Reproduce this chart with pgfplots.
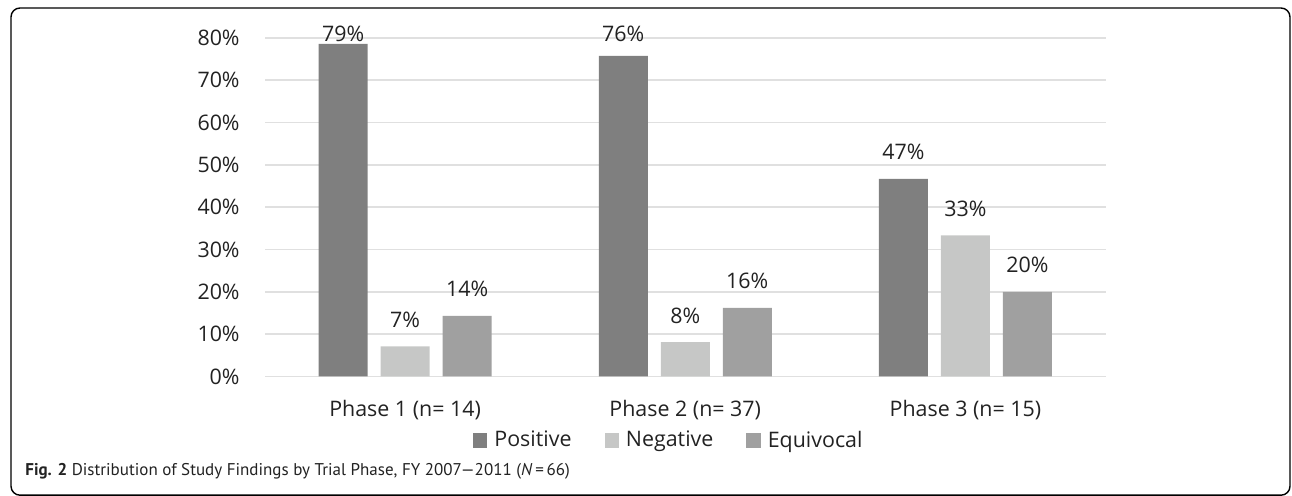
\documentclass[border=0pt]{standalone}
\usepackage{pgfplots}
\usepackage{pgfplotstable}
\pgfplotsset{compat=1.18}
\usepackage{fontspec}
\setmainfont{Open Sans}
\newfontfamily\capfont{PT Sans}

\definecolor{posgray}{HTML}{7F7F7F}
\definecolor{neggray}{HTML}{C6C7C6}
\definecolor{equgray}{HTML}{A0A0A0}
\definecolor{gridgray}{HTML}{E0E0E0}
\definecolor{txt}{HTML}{222222}

% share of findings (%) per trial phase: 0 = Phase 1, 1 = Phase 2, 2 = Phase 3
\pgfplotstableread{
x v
0 78.57
1 75.68
2 46.67
}\positive
\pgfplotstableread{
x v
0 7.14
1 8.11
2 33.33
}\negative
\pgfplotstableread{
x v
0 14.29
1 16.22
2 20.00
}\equivocal

\begin{document}
\begin{tikzpicture}[font=\fontsize{10.7}{12.8}\selectfont, text=txt]
\useasboundingbox (0pt,0pt) rectangle (646pt,-248pt);
% outer frame
\draw[line width=0.7pt, rounded corners=4.5pt] (5.5pt,-4pt) rectangle (645pt,-247.6pt);

\begin{axis}[
  at={(132.5pt,-188.25pt)}, anchor=south west,
  scale only axis, width=420.25pt, height=169.4pt,
  xmin=-0.5, xmax=2.5, ymin=0, ymax=80,
  clip=false,
  axis line style={draw=none},
  tick style={draw=none}, major tick length=0pt,
  ymajorgrids, major grid style={gridgray, line width=0.9pt},
  ytick={0,10,...,80},
  yticklabels={0\%,10\%,20\%,30\%,40\%,50\%,60\%,70\%,80\%},
  yticklabel style={anchor=east, inner sep=0pt, xshift=-12.5pt},
  xtick={0,1,2},
  xticklabels={Phase 1 (n= 14), Phase 2 (n= 37), Phase 3 (n= 15)},
  xticklabel style={anchor=base, inner sep=0pt, yshift=-20.25pt},
  /pgf/number format/assume math mode=true,
  bar width=24.5pt,
  nodes near coords={\pgfmathprintnumber[fixed,precision=0]{\pgfplotspointmeta}\%},
  % labels sit 9.5pt above the bar, but never above the top of the plot area
  visualization depends on={min(9.5,(79.1-\thisrow{v})*2.1167) \as \dy},
  every node near coord/.append style={anchor=base, inner sep=0pt, yshift=\dy pt, text=txt},
  legend columns=3,
  legend image code/.code={\fill[#1,draw=none] (0pt,-3.6pt) rectangle (7.2pt,3.6pt);},
  legend style={at={(0.2475,-0.189)}, anchor=west, draw=none, fill=none,
    inner sep=0pt, outer sep=0pt, nodes={inner sep=0pt, text=txt},
    /tikz/every odd column/.append style={column sep=3.5pt},
    /tikz/every even column/.append style={column sep=16.5pt}},
]
\addplot[ybar, bar shift=-31pt, fill=posgray, draw=none,
  every node near coord/.append style={xshift=-31pt}] table[x=x, y=v] {\positive};
\addlegendentry{Positive}
\addplot[ybar, bar shift=0pt, fill=neggray, draw=none] table[x=x, y=v] {\negative};
\addlegendentry{Negative}
\addplot[ybar, bar shift=31pt, fill=equgray, draw=none,
  every node near coord/.append style={xshift=31pt}] table[x=x, y=v] {\equivocal};
\addlegendentry{Equivocal}
\end{axis}

\node[anchor=base west, inner sep=0pt, text=txt] at (12.5pt,-238pt)
  {\capfont\fontsize{8.5}{10}\selectfont\textbf{Fig. 2} Distribution of Study Findings by Trial Phase, FY 2007—2011 (\textit{N}\,=\,66)};
\end{tikzpicture}
\end{document}
